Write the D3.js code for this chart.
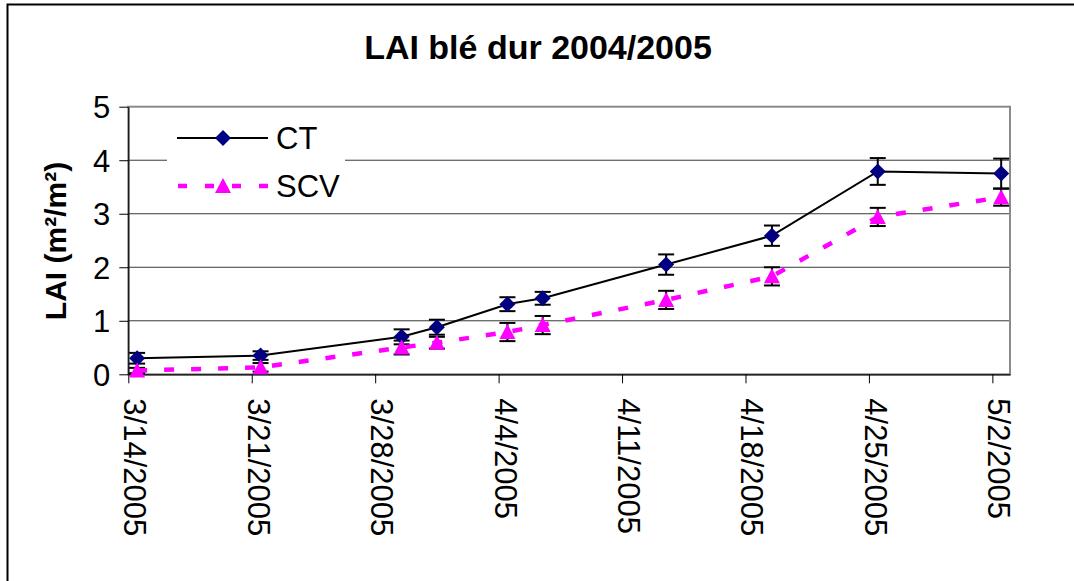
<!DOCTYPE html>
<html>
<head>
<meta charset="utf-8">
<script src="https://cdn.jsdelivr.net/npm/d3@7"></script>
<style>
  body { margin: 0; background: #fff; }
  svg { display: block; font-family: "Liberation Sans", Arial, sans-serif; }
</style>
</head>
<body>
<script>
"use strict";
// data
const dates = ["2005-03-14", "2005-03-21", "2005-03-29", "2005-03-31", "2005-04-04",
               "2005-04-06", "2005-04-13", "2005-04-19", "2005-04-25", "2005-05-02"];
const ctValues  = [0.30, 0.35, 0.70, 0.88, 1.31, 1.42, 2.05, 2.59, 3.79, 3.75];
const ctErrors  = [0.10, 0.08, 0.14, 0.14, 0.13, 0.12, 0.19, 0.19, 0.25, 0.28];
const scvValues = [0.07, 0.13, 0.50, 0.59, 0.79, 0.92, 1.39, 1.83, 2.94, 3.31];
const scvErrors = [0.05, 0.08, 0.13, 0.11, 0.17, 0.17, 0.17, 0.17, 0.17, 0.16];
const yTicks = [0, 1, 2, 3, 4, 5];
const seriesNames = ["CT", "SCV"];
const chartTitle = "LAI blé dur 2004/2005";
const yTitle = "LAI (m²/m²)";

(function(){
    const measurements = {
        width: 1074,
        height: 581,
        left: 128.3,
        right: 1010,
        top: 106.7,
        bottom: 374.3
    }
    const parse = d3.utcParse("%Y-%m-%d")
    const halfDay = 12 * 3600 * 1000
    const diamond = "M0,-8L8,0L0,8L-8,0Z"
    const triangle = "M0,-8L8,7L-8,7Z"

    let svgContainer = d3.select("body").append("svg")
        .attr("width", measurements.width)
        .attr("height", measurements.height)

    // outer chart border
    svgContainer.append("rect")
        .attr("x", 7.5).attr("y", 4.5)
        .attr("width", 1100).attr("height", 620)
        .attr("fill", "#fff")
        .attr("stroke", "#000")
        .attr("stroke-width", 2)

    // days are categories, points sit in the middle of each day
    let scaleX = d3.scaleUtc()
        .domain([parse("2005-03-14"), parse("2005-05-03")])
        .range([measurements.left, measurements.right])
    let scaleY = d3.scaleLinear()
        .domain([0, 5])
        .range([measurements.bottom, measurements.top])

    const ct = dates.map((d, i) => ({ date: parse(d), v: ctValues[i], e: ctErrors[i] }))
    const scv = dates.map((d, i) => ({ date: parse(d), v: scvValues[i], e: scvErrors[i] }))

    drawFrame(scaleX, scaleY)
    drawAxes(scaleX, scaleY)
    plotData(scaleX, scaleY, ct, scv)
    drawLegend()
    drawTitles()

    function drawFrame(scaleX, scaleY) {
        // grid lines
        svgContainer.append("g")
            .selectAll("line")
            .data(yTicks.filter(t => t > 0 && t < 5))
            .enter()
            .append("line")
                .attr("x1", measurements.left)
                .attr("x2", measurements.right)
                .attr("y1", d => scaleY(d))
                .attr("y2", d => scaleY(d))
                .attr("stroke", "#3a3a3a")
                .attr("stroke-width", 1)
        // plot area border
        svgContainer.append("rect")
            .attr("x", measurements.left)
            .attr("y", scaleY(5))
            .attr("width", measurements.right - measurements.left)
            .attr("height", scaleY(0) - scaleY(5))
            .attr("fill", "none")
            .attr("stroke", "#8a8a8a")
            .attr("stroke-width", 2)
    }

    function drawAxes(scaleX, scaleY) {
        let xAxis = d3.axisBottom(scaleX)
            .tickValues(d3.utcDay.range(parse("2005-03-14"), parse("2005-05-03"), 7))
            .tickFormat(d3.utcFormat("%-m/%-d/%Y"))
            .tickSize(9)
            .tickSizeOuter(0)
        let yAxis = d3.axisLeft(scaleY)
            .tickValues(yTicks)
            .tickFormat(d3.format("d"))
            .tickSize(9)
            .tickSizeOuter(0)

        let gx = svgContainer.append("g")
            .attr("transform", `translate(0, ${measurements.bottom})`)
            .call(xAxis)
            .attr("font-family", null)
        gx.select(".domain").attr("stroke", "#000").attr("stroke-width", 1.2)
        gx.selectAll(".tick line").attr("stroke", "#000")
        gx.selectAll(".tick text")
            .attr("font-size", 31)
            .attr("fill", "#000")
            .attr("text-anchor", "start")
            .attr("dy", null)
            .attr("y", 0)
            .attr("x", 0)
            .attr("transform", "translate(-4.5, 24) rotate(90)")

        let gy = svgContainer.append("g")
            .attr("transform", `translate(${measurements.left}, 0)`)
            .call(yAxis)
            .attr("font-family", null)
        gy.select(".domain").attr("stroke", "#000").attr("stroke-width", 1.2)
        gy.selectAll(".tick line").attr("stroke", "#000")
        gy.selectAll(".tick text")
            .attr("font-size", 31)
            .attr("fill", "#000")
            .attr("x", -18)
            .attr("dy", "0.36em")
    }

    function errorBars(g, rows, xMap, scaleY) {
        let bars = g.selectAll(".err")
            .data(rows)
            .enter()
            .append("g")
        bars.append("line")
            .attr("x1", xMap).attr("x2", xMap)
            .attr("y1", d => scaleY(d.v - d.e))
            .attr("y2", d => scaleY(d.v + d.e))
        bars.append("line")
            .attr("x1", d => xMap(d) - 8).attr("x2", d => xMap(d) + 8)
            .attr("y1", d => scaleY(d.v + d.e)).attr("y2", d => scaleY(d.v + d.e))
        bars.append("line")
            .attr("x1", d => xMap(d) - 8).attr("x2", d => xMap(d) + 8)
            .attr("y1", d => scaleY(d.v - d.e)).attr("y2", d => scaleY(d.v - d.e))
        bars.selectAll("line")
            .attr("stroke", "#000")
            .attr("stroke-width", 2)
    }

    function plotData(scaleX, scaleY, ct, scv) {
        const xMap = d => scaleX(new Date(d.date.getTime() + halfDay))
        const yMap = d => scaleY(d.v)
        let line = d3.line().x(xMap).y(yMap)

        let g = svgContainer.append("g")

        errorBars(g.append("g"), scv, xMap, scaleY)
        errorBars(g.append("g"), ct, xMap, scaleY)

        g.append("path")
            .datum(ct)
            .attr("d", line)
            .attr("fill", "none")
            .attr("stroke", "#000")
            .attr("stroke-width", 2)

        g.append("path")
            .datum(scv)
            .attr("d", line)
            .attr("fill", "none")
            .attr("stroke", "#ff00ff")
            .attr("stroke-width", 4.5)
            .attr("stroke-dasharray", "10,17")

        g.selectAll(".diamond")
            .data(ct)
            .enter()
            .append("path")
                .attr("d", diamond)
                .attr("transform", d => `translate(${xMap(d)},${yMap(d)})`)
                .attr("fill", "#000080")

        g.selectAll(".tri")
            .data(scv)
            .enter()
            .append("path")
                .attr("d", triangle)
                .attr("transform", d => `translate(${xMap(d)},${yMap(d)})`)
                .attr("fill", "#ff00ff")
    }

    function drawLegend() {
        let lg = svgContainer.append("g")
        lg.append("rect")
            .attr("x", 167).attr("y", 112)
            .attr("width", 178).attr("height", 98)
            .attr("fill", "#fff")

        const rowsY = [138, 186]
        lg.append("line")
            .attr("x1", 177).attr("x2", 268)
            .attr("y1", rowsY[0]).attr("y2", rowsY[0])
            .attr("stroke", "#000").attr("stroke-width", 2)
        lg.append("path")
            .attr("d", diamond)
            .attr("transform", `translate(223,${rowsY[0]})`)
            .attr("fill", "#000080")

        lg.append("line")
            .attr("x1", 178).attr("x2", 268)
            .attr("y1", rowsY[1]).attr("y2", rowsY[1])
            .attr("stroke", "#ff00ff").attr("stroke-width", 4.5)
            .attr("stroke-dasharray", "9,18")
        lg.append("path")
            .attr("d", triangle)
            .attr("transform", `translate(223,${rowsY[1]})`)
            .attr("fill", "#ff00ff")

        lg.selectAll("text")
            .data(seriesNames)
            .enter()
            .append("text")
                .attr("x", 276)
                .attr("y", (d, i) => rowsY[i])
                .attr("dy", "0.36em")
                .attr("font-size", 31)
                .text(d => d)
    }

    function drawTitles() {
        svgContainer.append("text")
            .attr("x", 538)
            .attr("y", 59)
            .attr("text-anchor", "middle")
            .attr("font-size", 34)
            .attr("font-weight", "bold")
            .text(chartTitle)

        svgContainer.append("text")
            .attr("transform", "translate(66, 241) rotate(-90)")
            .attr("text-anchor", "middle")
            .attr("font-size", 30)
            .attr("font-weight", "bold")
            .text(yTitle)
    }
})()
</script>
</body>
</html>
